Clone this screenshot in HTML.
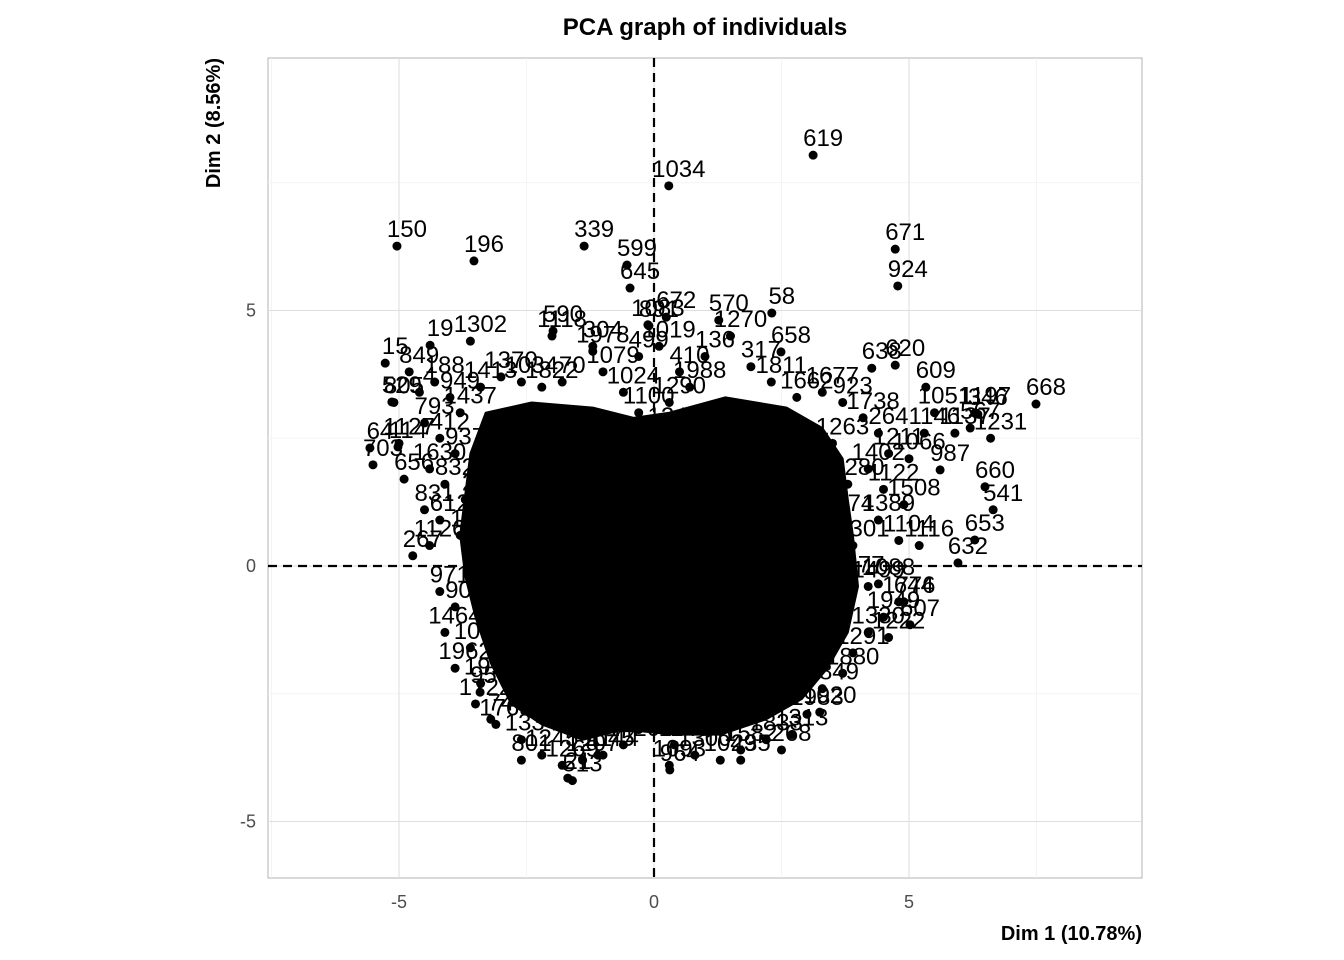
<!DOCTYPE html>
<html><head><meta charset="utf-8"><style>
html,body{margin:0;padding:0;background:#fff;width:1344px;height:960px;overflow:hidden}
svg text{font-family:"Liberation Sans",sans-serif}
</style></head><body>
<svg id="chart" width="1344" height="960" viewBox="0 0 1344 960" xmlns="http://www.w3.org/2000/svg">
<text x="705" y="35" font-size="24" font-weight="bold" text-anchor="middle">PCA graph of individuals</text>
<rect x="268" y="58" width="874" height="820" fill="#fff" stroke="#b3b3b3" stroke-width="1"/>
<g id="grid"></g>
<g id="dense"></g>
<g id="pts"></g>
<g id="axes"></g>
<text x="1142" y="940" font-size="20" font-weight="bold" text-anchor="end">Dim 1 (10.78%)</text>
<text transform="translate(220,58) rotate(-90)" font-size="20" font-weight="bold" text-anchor="end">Dim 2 (8.56%)</text>
</svg>
<script>
const xTicks=[-5,0,5];
const yTicks=[-5,0,5];
const xMinor=[-7.5,-2.5,2.5,7.5];
const yMinor=[-2.5,2.5,7.5];
const labeledX=[3.12,0.29,-5.04,-3.53,-1.37,-0.53,-0.47,4.73,4.78,-0.12,0.24,1.27,2.31,2.49,4.27,4.73,5.33,7.49,6.35,6.49,6.65,6.29,5.96,5.61,-5.27,-4.39,-5.14,-5.57,-5.02,-5.51,-4.73,-1.98,-3.41,-1.69,0.31,3.25,5.02,4.9,4.4,-1.2,-3.2,-2.6,1.7,2.5,-1.1];
const labeledY=[8.04,7.44,6.26,5.97,6.26,5.89,5.44,6.20,5.48,4.72,4.87,4.81,4.95,4.19,3.87,3.93,3.50,3.17,2.97,1.55,1.10,0.51,0.06,1.88,3.97,4.32,3.21,2.31,2.33,1.98,0.20,4.60,-2.47,-4.15,-3.99,-2.86,-1.15,-0.7,-0.35,4.3,-3.0,-3.8,-3.8,-3.6,-3.7];
const labels=["619","1034","150","196","339","599","645","671","924","1083","672","570","58","658","638","620","609","668","346","660","541","653","632","987","15","19","529","64","114","703","267","590","950","21","964","1020","607","644","1088","304","74","801","235","268","1045"];
const extraX=[-4.6,-4.3,-4.0,-3.8,-4.5,-4.2,-3.9,-4.4,-4.1,-3.7,-4.5,-4.2,-3.8,-4.4,-3.4,-3.0,-2.6,-2.2,-1.8,-1.2,-1.0,-0.6,-0.3,-0.2,-0.2,-0.3,-0.2,-5.1,-5.0,-4.9,-4.8,-3.6,-2.0,-0.1,-0.3,0.5,0.7,1.0,1.5,1.9,2.3,2.8,3.3,3.7,4.1,4.4,4.6,4.2,4.5,4.9,4.4,4.8,5.2,3.9,3.5,3.8,3.6,5.0,5.3,5.9,6.2,6.6,6.3,5.5,0.1,0.3,0.2,0.2,0.3,-4.2,-3.9,-4.1,-3.6,-3.9,-3.4,-3.5,-3.1,-2.6,-2.2,-1.8,-1.4,-1.0,-0.6,-0.3,-0.2,-0.3,-0.2,-0.3,-1.6,-2.9,-3.4,0.3,0.2,0.3,0.2,0.4,0.8,1.3,1.7,2.2,2.7,3.0,3.3,3.7,3.9,4.2,4.5,4.8,4.2,3.8,4.6,0.3];
const extraY=[3.4,3.6,3.3,3.0,2.8,2.5,2.2,1.9,1.6,1.3,1.1,0.9,0.6,0.4,3.5,3.7,3.6,3.5,3.6,4.2,3.8,3.4,3.0,2.4,1.8,1.2,0.6,3.2,2.4,1.7,3.8,4.4,4.5,4.7,4.1,3.8,3.5,4.1,4.5,3.9,3.6,3.3,3.4,3.2,2.9,2.6,2.2,1.9,1.5,1.2,0.9,0.5,0.4,0.4,2.4,1.6,0.9,2.1,2.6,2.6,2.7,2.5,3.0,3.0,4.3,3.2,2.6,1.7,0.8,-0.5,-0.8,-1.3,-1.6,-2.0,-2.3,-2.7,-3.1,-3.4,-3.7,-3.9,-3.8,-3.7,-3.5,-3.2,-2.5,-1.8,-1.0,-0.4,-4.2,-0.3,-0.5,-0.4,-1.2,-2.0,-2.8,-3.5,-3.7,-3.8,-3.6,-3.4,-3.3,-2.9,-2.4,-2.1,-1.7,-1.3,-1.0,-0.7,-0.4,-0.3,-1.4,-3.9];
const extraLabels=["4","188","949","1437","793","412","937","1630","832","24","831","612","185","1126","1413","1370","1034","1822","70","1978","1079","1024","1100","1235","1407","1566","1590","805","1127","656","849","1302","1118","891","499","410","1988","136","1270","317","1811","1662","1677","923","1738","264","1211","1402","1122","1508","1389","1104","1116","1301","1263","1280","1774","1066","1146","1137","567","1231","1197","1051","1019","1290","1241","1068","1077","971","902","1464","1098","1962","1994","1722","1765","1334","1245","1269","1207","1144","1420","1022","1442","1171","1053","1212","513","1015","1266","1088","1047","1093","1220","1148","1300","1049","1582","1833","1313","1983","1849","1880","1291","1330","1949","1776","1499","1377","1222","1093","1120"];
const densePolyX=[-3.3,-2.4,-1.2,-0.4,0.3,1.4,2.6,3.3,3.7,3.8,3.9,4.0,3.8,3.4,2.9,2.2,1.3,0.4,-0.6,-1.4,-2.2,-2.8,-3.2,-3.5,-3.7,-3.8,-3.7,-3.6];
const densePolyY=[3.0,3.2,3.1,2.9,3.0,3.3,3.1,2.7,2.1,1.3,0.6,-0.4,-1.3,-2.0,-2.6,-3.0,-3.3,-3.3,-3.2,-3.4,-3.1,-2.7,-1.9,-1.0,-0.2,0.6,1.4,2.2];

const X0=654,XS=51,Y0=566,YS=51.1;
const sx=v=>X0+v*XS, sy=v=>Y0-v*YS;
const NS="http://www.w3.org/2000/svg";
function mk(tag,attrs,parent){const e=document.createElementNS(NS,tag);for(const k in attrs)e.setAttribute(k,attrs[k]);parent.appendChild(e);return e;}
const grid=document.getElementById('grid'),axes=document.getElementById('axes'),dense=document.getElementById('dense'),pts=document.getElementById('pts');
xMinor.forEach(v=>{const l=mk('line',{x1:sx(v),x2:sx(v),y1:58,y2:878,stroke:'#f0f0f0','stroke-width':0.7},grid);

});
yMinor.forEach(v=>{const l=mk('line',{x1:268,x2:1142,y1:sy(v),y2:sy(v),stroke:'#f0f0f0','stroke-width':0.7},grid);

});
xTicks.forEach(v=>{const l=mk('line',{x1:sx(v),x2:sx(v),y1:58,y2:878,stroke:'#dedede','stroke-width':1},grid);


const t=mk('text',{x:sx(v),y:908,'font-size':18,fill:'#4d4d4d','text-anchor':'middle'},axes);t.textContent=v;

});
yTicks.forEach(v=>{const l=mk('line',{x1:268,x2:1142,y1:sy(v),y2:sy(v),stroke:'#dedede','stroke-width':1},grid);


const t=mk('text',{x:256,y:sy(v)+6,'font-size':18,fill:'#4d4d4d','text-anchor':'end'},axes);t.textContent=v;

});
const poly=mk('polygon',{points:densePolyX.map((x,i)=>sx(x)+','+sy(densePolyY[i])).join(' '),fill:'#000','stroke':'#000','stroke-width':2,'stroke-linejoin':'round'},dense);


function addPoint(x,y,lab){
 const c=mk('circle',{cx:sx(x),cy:sy(y),r:4.5,fill:'#000'},pts);
 
 
 const t=mk('text',{x:sx(x)+10,y:sy(y)-9,'font-size':24,fill:'#000','text-anchor':'middle'},pts);t.textContent=lab;
 
 
}
extraX.forEach((x,i)=>addPoint(x,extraY[i],extraLabels[i]||''));
labeledX.forEach((x,i)=>addPoint(x,labeledY[i],labels[i]));
const h=mk('line',{x1:268,x2:1142,y1:sy(0),y2:sy(0),stroke:'#000','stroke-width':2.2,'stroke-dasharray':'9,6'},axes);


const v=mk('line',{x1:sx(0),x2:sx(0),y1:58,y2:878,stroke:'#000','stroke-width':2.2,'stroke-dasharray':'9,6'},axes);


</script>
</body></html>
